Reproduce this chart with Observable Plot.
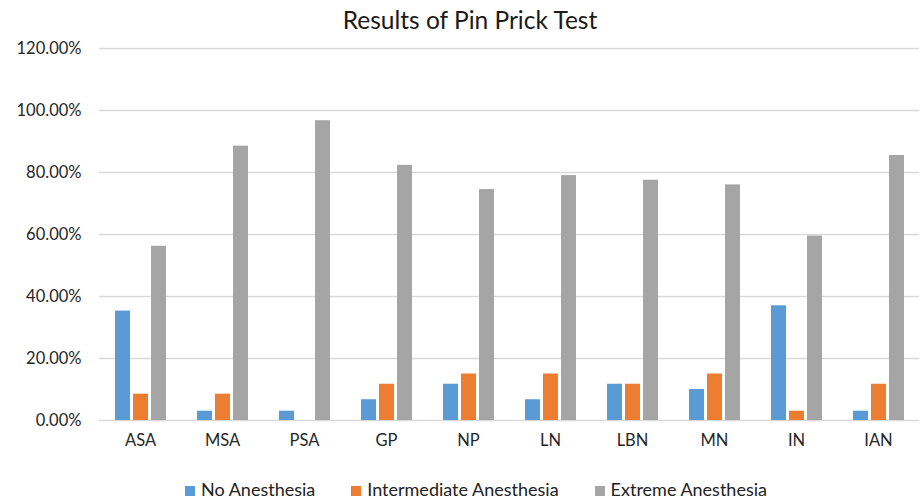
<!DOCTYPE html>
<html>
<head>
<meta charset="utf-8">
<script src="https://cdn.jsdelivr.net/npm/d3@7"></script>
<script src="https://cdn.jsdelivr.net/npm/@observablehq/plot@0.6"></script>
<style>
  body { margin: 0; background: #fff; font-family: Lato, "Open Sans", sans-serif; color: #262626; }
  #title { height: 36px; line-height: 40px; text-align: center; font-size: 24.5px; color: #1a1a1a; padding-left: 18px; box-sizing: border-box; }
  #legend { display: flex; justify-content: center; gap: 36px; font-size: 18px; color: #222; padding-left: 30px; height: 24px; line-height: 26px; }
  #legend span.sw { display: inline-block; width: 10px; height: 10px; margin-right: 6px; vertical-align: 0px; }
</style>
</head>
<body>
<div id="title">Results of Pin Prick Test</div>
<div id="chart"></div>
<div id="legend"></div>
<script>
const categories = ["ASA", "MSA", "PSA", "GP", "NP", "LN", "LBN", "MN", "IN", "IAN"];
const series = ["No Anesthesia", "Intermediate Anesthesia", "Extreme Anesthesia"];
const colors = ["#5B9BD5", "#ED7D31", "#A5A5A5"];
const noAnesthesia = [35.3, 3.0, 3.0, 6.7, 11.7, 6.7, 11.7, 10.0, 37.0, 3.0];
const intermediateAnesthesia = [8.5, 8.5, 0, 11.7, 15.0, 15.0, 11.7, 15.0, 3.0, 11.7];
const extremeAnesthesia = [56.2, 88.5, 96.7, 82.3, 74.5, 79.0, 77.5, 76.0, 59.5, 85.5];
const yTicks = [0, 20, 40, 60, 80, 100, 120];

const seriesValues = [noAnesthesia, intermediateAnesthesia, extremeAnesthesia];
const data = [];
categories.forEach((c, i) => {
  series.forEach((s, j) => data.push({category: c, series: s, value: seriesValues[j][i]}));
});

const chart = Plot.plot({
  width: 922,
  height: 440,
  marginTop: 12,
  marginBottom: 56,
  marginLeft: 98,
  marginRight: 2,
  style: {fontFamily: "Lato, 'Open Sans', sans-serif", fontSize: "16.5px", color: "#262626"},
  fx: {domain: categories, padding: 0, label: null, axis: "bottom", tickSize: 0, tickPadding: 14},
  x: {domain: series, paddingInner: 0.19, paddingOuter: 0.86, axis: null},
  y: {domain: [0, 120], ticks: yTicks, tickFormat: d => d.toFixed(2) + "%", label: null, tickSize: 0, tickPadding: 18, grid: false},
  color: {domain: series, range: colors},
  marks: [
    Plot.ruleY(yTicks, {stroke: "#d9d9d9", strokeWidth: 1.3}),
    Plot.barY(data, {fx: "category", x: "series", y: "value", fill: "series"})
  ]
});
document.getElementById("chart").appendChild(chart);

const legend = document.getElementById("legend");
series.forEach((s, i) => {
  const item = document.createElement("div");
  item.innerHTML = `<span class="sw" style="background:${colors[i]}"></span>${s}`;
  legend.appendChild(item);
});
</script>
</body>
</html>
